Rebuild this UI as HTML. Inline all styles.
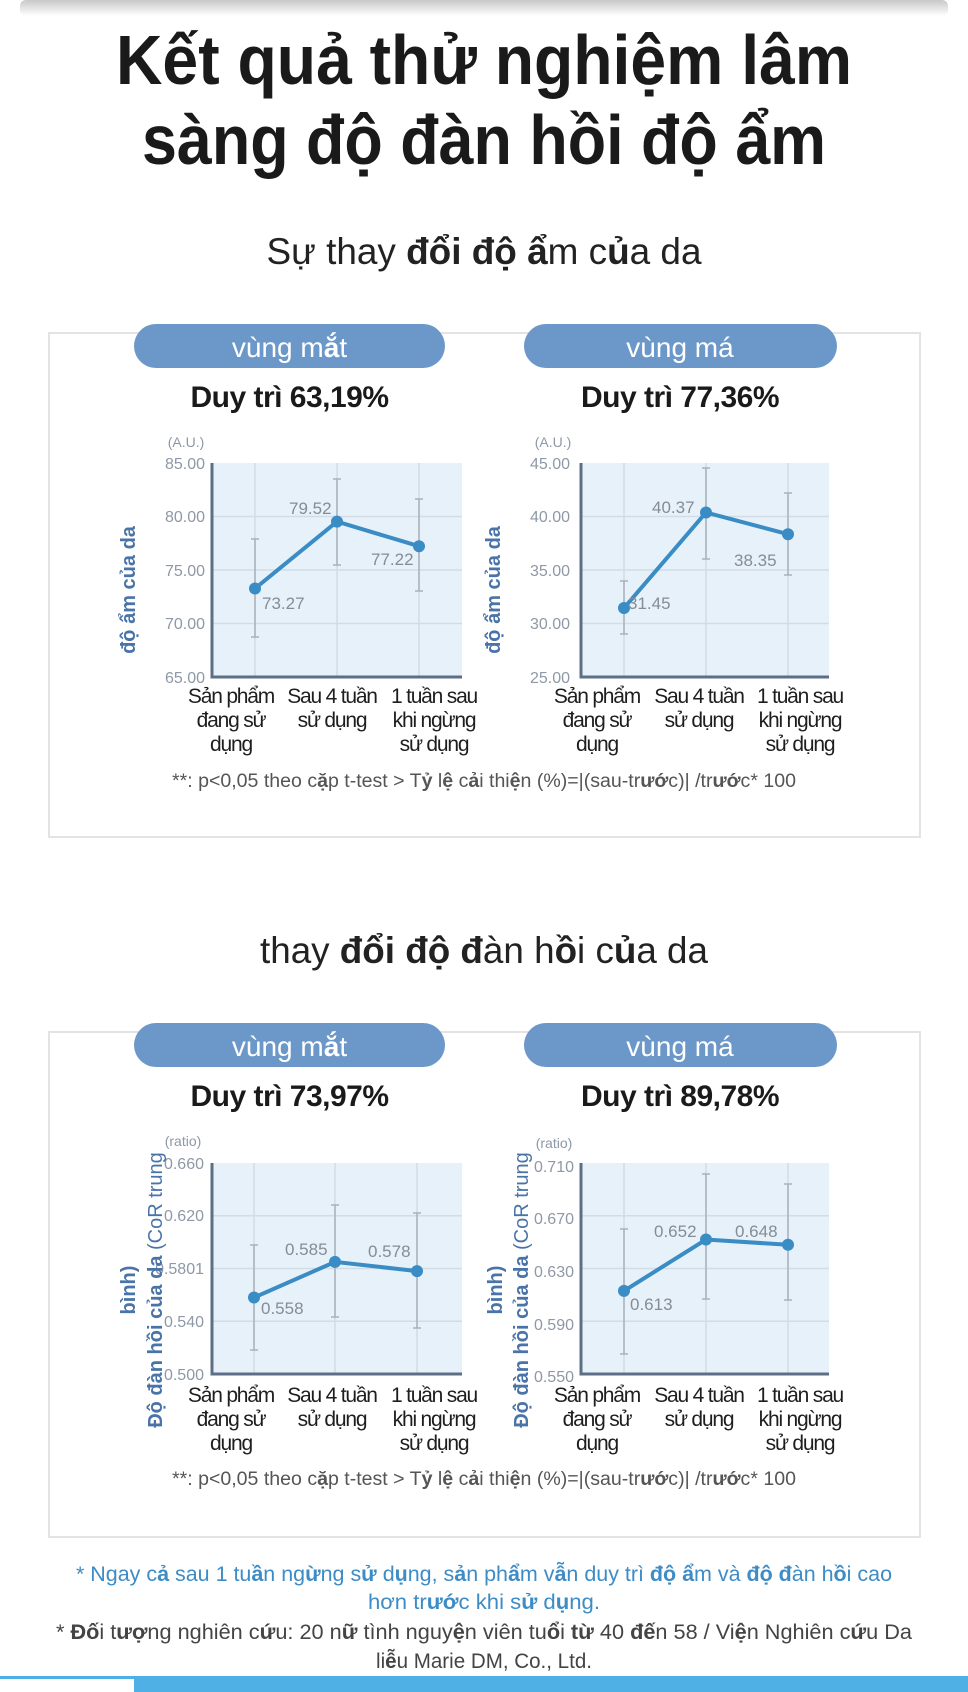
<!DOCTYPE html>
<html><head><meta charset="utf-8"><style>
html,body{margin:0;padding:0;background:#fff;width:968px;height:1692px;overflow:hidden}
svg{display:block}
text{font-family:"Liberation Sans","Noto Sans CJK JP",sans-serif}
.tk{font-size:16px;fill:#8e98a6;text-anchor:end}
.dl{font-size:17px;fill:#858c96}
.cat{font-size:21px;fill:#1e1e1e;text-anchor:middle;letter-spacing:-1.2px}
.pill{font-size:28px;fill:#fff;text-anchor:middle}
.duy{font-size:30px;font-weight:bold;fill:#1a1a1a;text-anchor:middle;letter-spacing:-0.5px}
.ax{font-size:20px;fill:#4a74a8;font-weight:bold;text-anchor:middle}
.unit{font-size:14px;fill:#8e98a6;text-anchor:middle}
.fn{font-size:19px;fill:#555;text-anchor:middle}
.g{stroke:#d3dbe4;stroke-width:1.5}
.eb{stroke:#a9b2bc;stroke-width:1.5}
.ln{stroke:#3a8cc4;stroke-width:4;fill:none}
.dot{fill:#3a8cc4}
.axl{stroke:#5c6f86;stroke-width:3;fill:none}
</style></head><body>
<svg width="968" height="1692" viewBox="0 0 968 1692" xmlns="http://www.w3.org/2000/svg">
<defs><linearGradient id="sh" x1="0" y1="0" x2="0" y2="1"><stop offset="0" stop-color="#c8c8c8"/><stop offset="1" stop-color="#fff"/></linearGradient></defs>
<rect x="20" y="0" width="928" height="16" rx="6" fill="url(#sh)"/>

<text x="484" y="84" font-size="70" font-weight="bold" fill="#1a1a1a" text-anchor="middle" textLength="736" lengthAdjust="spacingAndGlyphs">Kết quả thử nghiệm lâm</text>
<text x="484" y="164" font-size="70" font-weight="bold" fill="#1a1a1a" text-anchor="middle" textLength="684" lengthAdjust="spacingAndGlyphs">sàng độ đàn hồi độ ẩm</text>

<text x="484" y="264" font-size="37" fill="#222" text-anchor="middle" textLength="435" lengthAdjust="spacingAndGlyphs">Sự thay <tspan font-weight="bold">đổi độ ẩ</tspan>m c<tspan font-weight="bold">ủ</tspan>a da</text>

<!-- Box 1 -->
<rect x="49" y="333" width="871" height="504" fill="#fff" stroke="#e3e3e3" stroke-width="2"/>
<rect x="134" y="324" width="311" height="44" rx="22" fill="#6b98c8"/>
<rect x="524" y="324" width="313" height="44" rx="22" fill="#6b98c8"/>
<text class="pill" x="289.5" y="357">vùng m<tspan font-weight="bold">ắ</tspan>t</text>
<text class="pill" x="680" y="357">vùng má</text>
<text class="duy" x="289.5" y="407">Duy trì 63,19%</text>
<text class="duy" x="680" y="407">Duy trì 77,36%</text>

<!-- Chart L1 -->
<rect x="212" y="463" width="250" height="214" fill="#e7f1fa"/>
<g class="g"><line x1="212" y1="516.5" x2="462" y2="516.5"/><line x1="212" y1="570" x2="462" y2="570"/><line x1="212" y1="623.5" x2="462" y2="623.5"/>
<line x1="255" y1="463" x2="255" y2="677"/><line x1="337" y1="463" x2="337" y2="677"/><line x1="419" y1="463" x2="419" y2="677"/></g>
<g class="eb"><line x1="255" y1="539" x2="255" y2="637"/><line x1="251" y1="539" x2="259" y2="539"/><line x1="251" y1="637" x2="259" y2="637"/>
<line x1="337" y1="479" x2="337" y2="565"/><line x1="333" y1="479" x2="341" y2="479"/><line x1="333" y1="565" x2="341" y2="565"/>
<line x1="419" y1="499" x2="419" y2="591"/><line x1="415" y1="499" x2="423" y2="499"/><line x1="415" y1="591" x2="423" y2="591"/></g>
<polyline class="axl" points="212,463 212,677 462,677"/>
<polyline class="ln" points="255,588.5 337,521.6 419,546.2"/>
<circle class="dot" cx="255" cy="588.5" r="6"/><circle class="dot" cx="337" cy="521.6" r="6"/><circle class="dot" cx="419" cy="546.2" r="6"/>
<text class="dl" x="262" y="609">73.27</text><text class="dl" x="289" y="514">79.52</text><text class="dl" x="371" y="565">77.22</text>
<text class="tk" x="205" y="469">85.00</text><text class="tk" x="205" y="522">80.00</text><text class="tk" x="205" y="576">75.00</text><text class="tk" x="205" y="629">70.00</text><text class="tk" x="205" y="683">65.00</text>
<text class="unit" x="186" y="447">(A.U.)</text>
<text class="ax" transform="translate(135,590) rotate(-90)">độ ẩm của da</text>
<g class="cat"><text x="231" y="703">Sản phẩm</text><text x="231" y="727">đang sử</text><text x="231" y="751">dụng</text>
<text x="332" y="703">Sau 4 tuần</text><text x="332" y="727">sử dụng</text>
<text x="434" y="703">1 tuần sau</text><text x="434" y="727">khi ngừng</text><text x="434" y="751">sử dụng</text></g>

<!-- Chart R1 -->
<rect x="581" y="463" width="248" height="214" fill="#e7f1fa"/>
<g class="g"><line x1="581" y1="516.5" x2="829" y2="516.5"/><line x1="581" y1="570" x2="829" y2="570"/><line x1="581" y1="623.5" x2="829" y2="623.5"/>
<line x1="624" y1="463" x2="624" y2="677"/><line x1="706" y1="463" x2="706" y2="677"/><line x1="788" y1="463" x2="788" y2="677"/></g>
<g class="eb"><line x1="624" y1="581" x2="624" y2="634"/><line x1="620" y1="581" x2="628" y2="581"/><line x1="620" y1="634" x2="628" y2="634"/>
<line x1="706" y1="468" x2="706" y2="559"/><line x1="702" y1="468" x2="710" y2="468"/><line x1="702" y1="559" x2="710" y2="559"/>
<line x1="788" y1="493" x2="788" y2="575"/><line x1="784" y1="493" x2="792" y2="493"/><line x1="784" y1="575" x2="792" y2="575"/></g>
<polyline class="axl" points="581,463 581,677 829,677"/>
<polyline class="ln" points="624,608 706,512.5 788,534.2"/>
<circle class="dot" cx="624" cy="608" r="6"/><circle class="dot" cx="706" cy="512.5" r="6"/><circle class="dot" cx="788" cy="534.2" r="6"/>
<text class="dl" x="628" y="609">31.45</text><text class="dl" x="652" y="513">40.37</text><text class="dl" x="734" y="566">38.35</text>
<text class="tk" x="570" y="469">45.00</text><text class="tk" x="570" y="522">40.00</text><text class="tk" x="570" y="576">35.00</text><text class="tk" x="570" y="629">30.00</text><text class="tk" x="570" y="683">25.00</text>
<text class="unit" x="553" y="447">(A.U.)</text>
<text class="ax" transform="translate(500,590) rotate(-90)">độ ẩm của da</text>
<g class="cat"><text x="597" y="703">Sản phẩm</text><text x="597" y="727">đang sử</text><text x="597" y="751">dụng</text>
<text x="699" y="703">Sau 4 tuần</text><text x="699" y="727">sử dụng</text>
<text x="800" y="703">1 tuần sau</text><text x="800" y="727">khi ngừng</text><text x="800" y="751">sử dụng</text></g>

<text class="fn" x="484" y="787" textLength="624" lengthAdjust="spacingAndGlyphs">**: p&lt;0,05 theo c<tspan font-weight="bold">ặ</tspan>p t-test &gt; T<tspan font-weight="bold">ỷ</tspan> l<tspan font-weight="bold">ệ</tspan> c<tspan font-weight="bold">ả</tspan>i thi<tspan font-weight="bold">ệ</tspan>n (%)=|(sau-tr<tspan font-weight="bold">ướ</tspan>c)| /tr<tspan font-weight="bold">ướ</tspan>c* 100</text>

<text x="484" y="963" font-size="37" fill="#222" text-anchor="middle" textLength="448" lengthAdjust="spacingAndGlyphs">thay <tspan font-weight="bold">đổi độ đ</tspan>àn h<tspan font-weight="bold">ồ</tspan>i c<tspan font-weight="bold">ủ</tspan>a da</text>

<!-- Box 2 -->
<rect x="49" y="1032" width="871" height="505" fill="#fff" stroke="#e3e3e3" stroke-width="2"/>
<rect x="134" y="1023" width="311" height="44" rx="22" fill="#6b98c8"/>
<rect x="524" y="1023" width="313" height="44" rx="22" fill="#6b98c8"/>
<text class="pill" x="289.5" y="1056">vùng m<tspan font-weight="bold">ắ</tspan>t</text>
<text class="pill" x="680" y="1056">vùng má</text>
<text class="duy" x="289.5" y="1106">Duy trì 73,97%</text>
<text class="duy" x="680" y="1106">Duy trì 89,78%</text>

<!-- Chart L2 -->
<rect x="212" y="1163" width="250" height="211" fill="#e7f1fa"/>
<g class="g"><line x1="212" y1="1215.7" x2="462" y2="1215.7"/><line x1="212" y1="1268.5" x2="462" y2="1268.5"/><line x1="212" y1="1321.2" x2="462" y2="1321.2"/>
<line x1="254" y1="1163" x2="254" y2="1374"/><line x1="335" y1="1163" x2="335" y2="1374"/><line x1="417" y1="1163" x2="417" y2="1374"/></g>
<g class="eb"><line x1="254" y1="1245" x2="254" y2="1350"/><line x1="250" y1="1245" x2="258" y2="1245"/><line x1="250" y1="1350" x2="258" y2="1350"/>
<line x1="335" y1="1205" x2="335" y2="1317"/><line x1="331" y1="1205" x2="339" y2="1205"/><line x1="331" y1="1317" x2="339" y2="1317"/>
<line x1="417" y1="1213" x2="417" y2="1328"/><line x1="413" y1="1213" x2="421" y2="1213"/><line x1="413" y1="1328" x2="421" y2="1328"/></g>
<polyline class="axl" points="212,1163 212,1374 462,1374"/>
<polyline class="ln" points="254,1297.5 335,1261.9 417,1271.1"/>
<circle class="dot" cx="254" cy="1297.5" r="6"/><circle class="dot" cx="335" cy="1261.9" r="6"/><circle class="dot" cx="417" cy="1271.1" r="6"/>
<text class="dl" x="261" y="1314">0.558</text><text class="dl" x="285" y="1255">0.585</text><text class="dl" x="368" y="1257">0.578</text>
<text class="tk" x="204" y="1169">0.660</text><text class="tk" x="204" y="1221">0.620</text><text class="tk" x="204" y="1274">0.5801</text><text class="tk" x="204" y="1327">0.540</text><text class="tk" x="204" y="1380">0.500</text>
<text class="unit" x="183" y="1146">(ratio)</text>
<text class="ax" transform="translate(162,1290) rotate(-90)">Độ đàn hồi của da <tspan font-weight="normal">(CoR trung</tspan></text>
<text class="ax" font-weight="normal" transform="translate(135,1290) rotate(-90)">bình)</text>
<g class="cat"><text x="231" y="1402">Sản phẩm</text><text x="231" y="1426">đang sử</text><text x="231" y="1450">dụng</text>
<text x="332" y="1402">Sau 4 tuần</text><text x="332" y="1426">sử dụng</text>
<text x="434" y="1402">1 tuần sau</text><text x="434" y="1426">khi ngừng</text><text x="434" y="1450">sử dụng</text></g>

<!-- Chart R2 -->
<rect x="581" y="1163" width="248" height="211" fill="#e7f1fa"/>
<g class="g"><line x1="581" y1="1215.7" x2="829" y2="1215.7"/><line x1="581" y1="1268.5" x2="829" y2="1268.5"/><line x1="581" y1="1321.2" x2="829" y2="1321.2"/>
<line x1="624" y1="1163" x2="624" y2="1374"/><line x1="706" y1="1163" x2="706" y2="1374"/><line x1="788" y1="1163" x2="788" y2="1374"/></g>
<g class="eb"><line x1="624" y1="1229" x2="624" y2="1354"/><line x1="620" y1="1229" x2="628" y2="1229"/><line x1="620" y1="1354" x2="628" y2="1354"/>
<line x1="706" y1="1174" x2="706" y2="1299"/><line x1="702" y1="1174" x2="710" y2="1174"/><line x1="702" y1="1299" x2="710" y2="1299"/>
<line x1="788" y1="1184" x2="788" y2="1300"/><line x1="784" y1="1184" x2="792" y2="1184"/><line x1="784" y1="1300" x2="792" y2="1300"/></g>
<polyline class="axl" points="581,1163 581,1374 829,1374"/>
<polyline class="ln" points="624,1290.9 706,1239.5 788,1244.8"/>
<circle class="dot" cx="624" cy="1290.9" r="6"/><circle class="dot" cx="706" cy="1239.5" r="6"/><circle class="dot" cx="788" cy="1244.8" r="6"/>
<text class="dl" x="630" y="1310">0.613</text><text class="dl" x="654" y="1237">0.652</text><text class="dl" x="735" y="1237">0.648</text>
<text class="tk" x="574" y="1172">0.710</text><text class="tk" x="574" y="1224">0.670</text><text class="tk" x="574" y="1277">0.630</text><text class="tk" x="574" y="1330">0.590</text><text class="tk" x="574" y="1382">0.550</text>
<text class="unit" x="554" y="1148">(ratio)</text>
<text class="ax" transform="translate(528,1290) rotate(-90)">Độ đàn hồi của da <tspan font-weight="normal">(CoR trung</tspan></text>
<text class="ax" font-weight="normal" transform="translate(502,1290) rotate(-90)">bình)</text>
<g class="cat"><text x="597" y="1402">Sản phẩm</text><text x="597" y="1426">đang sử</text><text x="597" y="1450">dụng</text>
<text x="699" y="1402">Sau 4 tuần</text><text x="699" y="1426">sử dụng</text>
<text x="800" y="1402">1 tuần sau</text><text x="800" y="1426">khi ngừng</text><text x="800" y="1450">sử dụng</text></g>

<text class="fn" x="484" y="1485" textLength="624" lengthAdjust="spacingAndGlyphs">**: p&lt;0,05 theo c<tspan font-weight="bold">ặ</tspan>p t-test &gt; T<tspan font-weight="bold">ỷ</tspan> l<tspan font-weight="bold">ệ</tspan> c<tspan font-weight="bold">ả</tspan>i thi<tspan font-weight="bold">ệ</tspan>n (%)=|(sau-tr<tspan font-weight="bold">ướ</tspan>c)| /tr<tspan font-weight="bold">ướ</tspan>c* 100</text>

<!-- bottom notes -->
<text x="484" y="1581" font-size="21" fill="#3d8cc6" text-anchor="middle" textLength="816" lengthAdjust="spacingAndGlyphs">* Ngay c<tspan font-weight="bold">ả</tspan> sau 1 tu<tspan font-weight="bold">ầ</tspan>n ng<tspan font-weight="bold">ừ</tspan>ng s<tspan font-weight="bold">ử</tspan> d<tspan font-weight="bold">ụ</tspan>ng, s<tspan font-weight="bold">ả</tspan>n ph<tspan font-weight="bold">ẩ</tspan>m v<tspan font-weight="bold">ẫ</tspan>n duy trì <tspan font-weight="bold">độ ẩ</tspan>m và <tspan font-weight="bold">độ đ</tspan>àn h<tspan font-weight="bold">ồ</tspan>i cao</text>
<text x="484" y="1609" font-size="21" fill="#3d8cc6" text-anchor="middle" textLength="232" lengthAdjust="spacingAndGlyphs">hơn tr<tspan font-weight="bold">ướ</tspan>c khi s<tspan font-weight="bold">ử</tspan> d<tspan font-weight="bold">ụ</tspan>ng.</text>
<text x="484" y="1639" font-size="21" fill="#444" text-anchor="middle" textLength="856" lengthAdjust="spacingAndGlyphs">* <tspan font-weight="bold">Đố</tspan>i t<tspan font-weight="bold">ượ</tspan>ng nghiên c<tspan font-weight="bold">ứ</tspan>u: 20 n<tspan font-weight="bold">ữ</tspan> tình nguy<tspan font-weight="bold">ệ</tspan>n viên tu<tspan font-weight="bold">ổ</tspan>i <tspan font-weight="bold">từ</tspan> 40 <tspan font-weight="bold">đế</tspan>n 58 / Vi<tspan font-weight="bold">ệ</tspan>n Nghiên c<tspan font-weight="bold">ứ</tspan>u Da</text>
<text x="484" y="1668" font-size="21" fill="#444" text-anchor="middle" textLength="216" lengthAdjust="spacingAndGlyphs">li<tspan font-weight="bold">ễ</tspan>u Marie DM, Co., Ltd.</text>

<rect x="0" y="1676" width="968" height="16" fill="#4fb0e6"/>
<rect x="0" y="1679" width="134" height="13" fill="#fff"/>
</svg>
</body></html>
